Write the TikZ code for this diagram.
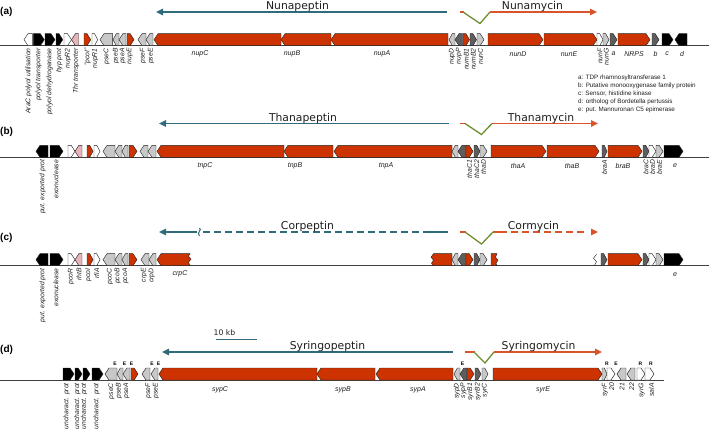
\documentclass[tikz,border=0pt]{standalone}
\usepackage{fontspec}
\setmainfont{Liberation Sans}
\newfontfamily\titlefont{DejaVu Sans}
\usetikzlibrary{arrows.meta}
\definecolor{gred}{HTML}{CC3300}
\definecolor{lgr}{HTML}{C8C8C8}
\definecolor{dgr}{HTML}{5E5E5E}
\definecolor{pnk}{HTML}{E8B4BA}
\definecolor{tealc}{HTML}{2F6B7A}
\definecolor{arrred}{HTML}{D9532B}
\definecolor{grnc}{HTML}{6F8F30}
\definecolor{txt}{HTML}{1E1E1E}
\newcounter{nn}
\newcommand\gR[4]{%
  \pgfmathsetmacro\gh{min(4,0.55*(#2-#1))}%
  \filldraw[gene,fill=#4] (#1,#3) -- (#1,#3-12) -- ({#2-\gh},#3-12) -- (#2,#3-6) -- ({#2-\gh},#3) -- cycle;}
\newcommand\gL[4]{%
  \pgfmathsetmacro\gh{min(4,0.55*(#2-#1))}%
  \filldraw[gene,fill=#4] (#2,#3) -- (#2,#3-12) -- ({#1+\gh},#3-12) -- (#1,#3-6) -- ({#1+\gh},#3) -- cycle;}
\newcommand\rl[3]{\stepcounter{nn}\node[rlab] (r\arabic{nn}) at (#1,#2) {#3};}
\newcommand\hl[3]{\stepcounter{nn}\node[hlab] (h\arabic{nn}) at (#1,#2) {#3};}
\newcommand\dl[3]{\stepcounter{nn}\node[domlab] (d\arabic{nn}) at (#1,#2) {#3};}
\tikzset{
  gene/.style={draw=black!85, line width=0.45pt, line join=miter},
  rlab/.style={rotate=90, anchor=east, inner sep=0pt, font=\fontsize{6.8}{7}\selectfont\itshape, text=txt},
  hlab/.style={anchor=center, inner sep=0pt, font=\fontsize{7}{8}\selectfont\itshape, text=txt},
  ttl/.style={anchor=base, inner sep=0pt, font=\titlefont\fontsize{10.8}{12}\selectfont, text=txt},
  pan/.style={anchor=west, inner sep=0pt, font=\fontsize{10}{12}\selectfont\bfseries},
  domlab/.style={inner sep=0pt, font=\fontsize{5}{6}\selectfont\bfseries},
  leg/.style={anchor=west, inner sep=0pt, font=\fontsize{6.3}{7}\selectfont, text=txt},
  tarr/.style={draw=tealc, line width=1.3pt, -{Triangle[length=7pt,width=6.5pt]}},
  rarr/.style={draw=arrred, line width=1.3pt, -{Triangle[length=7pt,width=6.5pt]}},
  rln/.style={draw=arrred, line width=1.3pt},
  tln/.style={draw=tealc, line width=1.3pt},
  vln/.style={draw=grnc, line width=1.3pt, line join=miter},
  bb/.style={draw=black!75, line width=0.75pt},
}
\begin{document}
\begin{tikzpicture}[x=1pt,y=-1pt]
\useasboundingbox (0,0) rectangle (709,439);
% ---------------- panel labels
\node[pan] (pa) at (0,11.5) {(a)};
\node[pan] (pb) at (0,131.7) {(b)};
\node[pan] (pc) at (0,238.3) {(c)};
\node[pan] (pd) at (0,350) {(d)};
% ---------------- backbones
\draw[bb] (0,45.7) -- (709,45.7);
\draw[bb] (0,157.3) -- (709,157.3);
\draw[bb] (0,265.7) -- (709,265.7);
\draw[bb] (0,380) -- (664,380);
% ================= ROW A
\draw[tarr] (447,12) -- (156,12);
\draw[rln] (460,12) -- (463.5,12);
\draw[vln] (463,12) -- (480,23.5) -- (490,12);
\draw[rarr] (489.5,12) -- (597,12);
\node[ttl] (ta1) at (297.5,9.5) {Nunapeptin};
\node[ttl] (ta2) at (532.5,9.5) {Nunamycin};
\def\B{45.7}
\gL{24}{32.3}{\B}{white}
\gR{33.3}{44.3}{\B}{black}
\gR{45}{55}{\B}{black}
\gR{56}{62.7}{\B}{black}
\gR{64}{71.5}{\B}{white}
\gL{71.5}{78.5}{\B}{pnk}
\gR{84}{90.7}{\B}{gred}
\gR{92}{97.7}{\B}{white}
\gL{100}{112.7}{\B}{lgr}
\gL{113}{119}{\B}{lgr}
\gL{119}{126}{\B}{lgr}
\gR{127}{134}{\B}{gred}
\gL{138}{146}{\B}{lgr}
\gL{146}{153}{\B}{lgr}
\gL{154}{281}{\B}{gred}
\gL{281}{331}{\B}{gred}
\gL{331}{448}{\B}{gred}
\gL{449}{455}{\B}{lgr}
\gL{455}{462.5}{\B}{dgr}
\gR{463}{469.5}{\B}{gred}
\gR{470}{476.5}{\B}{dgr}
\gR{477}{484}{\B}{lgr}
\gR{488}{543}{\B}{gred}
\gR{544}{597}{\B}{gred}
\gR{597}{603}{\B}{white}
\gR{603}{609}{\B}{lgr}
\gR{610}{617}{\B}{dgr}
\gR{618}{650}{\B}{gred}
\gR{652}{659}{\B}{dgr}
\gR{662}{673}{\B}{black}
\gL{675}{687}{\B}{black}
\def\Y{48.2}
\rl{28.5}{\Y}{AraC polyol utilisation}
\rl{38.5}{\Y}{polyol transporter}
\rl{49.5}{\Y}{polyol dehydrogenase}
\rl{59.3}{\Y}{hyp prot}
\rl{68}{\Y}{nupR2}
\rl{76}{\Y}{Thr transporter}
\rl{87.8}{\Y}{"pcoI"}
\rl{95.3}{\Y}{nupR1}
\rl{106.7}{\Y}{pseC}
\rl{116}{\Y}{pseB}
\rl{122.7}{\Y}{pseA}
\rl{129.8}{\Y}{nupE}
\rl{143}{\Y}{pseF}
\rl{151}{\Y}{pseE}
\rl{452}{\Y}{nupD}
\rl{459}{\Y}{nupP}
\rl{466.3}{\Y}{numB1}
\rl{473.3}{\Y}{numB2}
\rl{480.5}{\Y}{nunC}
\rl{600}{\Y}{nunF}
\rl{606.3}{\Y}{nunG}
\def\Y{54}
\hl{200}{\Y}{nupC}
\hl{292}{\Y}{nupB}
\hl{382}{\Y}{nupA}
\hl{518}{\Y}{nunD}
\hl{569}{\Y}{nunE}
\hl{613.5}{\Y}{a}
\hl{634}{\Y}{NRPS}
\hl{655.5}{\Y}{b}
\hl{667}{\Y}{c}
\hl{682}{\Y}{d}
% legend
\node[leg] (lg1) at (578,77.5) {a: TDP rhamnosyltransferase 1};
\node[leg] (lg2) at (578,85.5) {b: Putative monooxygenase family protein};
\node[leg] (lg3) at (578,93.5) {c: Sensor, histidine kinase};
\node[leg] (lg4) at (578,101.5) {d: ortholog of Bordetella pertussis};
\node[leg] (lg5) at (578,109.5) {e: put. Mannuronan C5 epimerase};
% ================= ROW B
\draw[tarr] (449,123.5) -- (159,123.5);
\draw[rln] (460,123.5) -- (465.5,123.5);
\draw[vln] (465,123.5) -- (481.5,134.5) -- (492,123.5);
\draw[rarr] (491.5,123.5) -- (598,123.5);
\node[ttl] (tb1) at (303,121) {Thanapeptin};
\node[ttl] (tb2) at (541,121) {Thanamycin};
\def\B{157.3}
\gL{36}{48}{\B}{black}
\gR{50}{63}{\B}{black}
\gR{68}{75}{\B}{white}
\gL{75}{82}{\B}{pnk}
\gR{87}{93}{\B}{gred}
\gR{94}{100}{\B}{white}
\gL{103}{115}{\B}{lgr}
\gL{115}{122}{\B}{lgr}
\gL{122}{128}{\B}{lgr}
\gR{129}{137}{\B}{gred}
\gL{140}{148}{\B}{lgr}
\gL{148}{156}{\B}{lgr}
\gL{157}{284}{\B}{gred}
\gL{284}{333}{\B}{gred}
\gL{334}{452}{\B}{gred}
\gL{452}{458}{\B}{lgr}
\gL{458}{466}{\B}{dgr}
\gR{466}{473}{\B}{gred}
\gR{474}{480}{\B}{dgr}
\gR{480}{487}{\B}{lgr}
\gR{491}{546}{\B}{gred}
\gR{547}{599}{\B}{gred}
\gR{602}{607}{\B}{dgr}
\gR{608}{642}{\B}{gred}
\gR{643}{649}{\B}{dgr}
\gR{649}{656}{\B}{white}
\gR{656}{663}{\B}{lgr}
\gR{664}{683}{\B}{black}
\def\Y{159.8}
\rl{42.5}{\Y}{put. exported prot}
\rl{56}{\Y}{exonuclease}
\rl{469.5}{\Y}{thaC1}
\rl{476.8}{\Y}{thaC2}
\rl{483.5}{\Y}{thaD}
\rl{604.5}{\Y}{braA}
\rl{646}{\Y}{braC}
\rl{652.5}{\Y}{braD}
\rl{659.5}{\Y}{braE}
\def\Y{165.8}
\hl{205}{\Y}{tnpC}
\hl{295}{\Y}{tnpB}
\hl{386}{\Y}{tnpA}
\hl{518}{\Y}{thaA}
\hl{572}{\Y}{thaB}
\hl{623}{\Y}{braB}
\hl{675}{\Y}{e}
% ================= ROW C
\draw[tarr] (197,232) -- (159,232);
\draw[tealc, line width=1pt] (199.5,228) .. controls (202.5,230) and (196,232.5) .. (199.5,236);
\draw[tln, dash pattern=on 6.5pt off 4.5pt] (203,232) -- (421,232);
\draw[tln] (423,232) -- (448,232);
\draw[rln] (460,232) -- (465.5,232);
\draw[vln] (465,232) -- (481.5,244) -- (493,232);
\draw[rln] (492.5,232) -- (507,232);
\draw[rln, dash pattern=on 6.5pt off 4.5pt] (511,232) -- (588,232);
\draw[rarr] (591,232) -- (598,232);
\node[ttl] (tc1) at (307.5,229.5) {Corpeptin};
\node[ttl] (tc2) at (533.5,229.5) {Cormycin};
\def\B{265.7}
\gL{36}{48}{\B}{black}
\gR{50}{63}{\B}{black}
\gR{68}{75}{\B}{white}
\gL{75}{82}{\B}{pnk}
\gR{87}{93}{\B}{gred}
\gR{94}{100}{\B}{white}
\gL{103}{115}{\B}{lgr}
\gL{115}{122}{\B}{lgr}
\gL{122}{128}{\B}{lgr}
\gR{129}{137}{\B}{gred}
\gL{141}{149}{\B}{lgr}
\gL{149}{156}{\B}{lgr}
\filldraw[gene,fill=gred] (190,\B-12) -- (161,\B-12) -- (157,\B-6) -- (161,\B) -- (190,\B) -- (188.5,\B-3.5) -- (191,\B-6.5) -- (188.5,\B-9.5) -- cycle;
\filldraw[gene,fill=gred] (452,\B-12) -- (433.5,\B-12) -- (431,\B-8.5) -- (433.5,\B-5.5) -- (431.5,\B-2.5) -- (433,\B) -- (452,\B) -- cycle;
\gL{452}{458}{\B}{lgr}
\gL{458}{466}{\B}{dgr}
\gR{466}{473}{\B}{gred}
\gR{474}{480}{\B}{dgr}
\gR{480}{487}{\B}{lgr}
\filldraw[gene,fill=gred] (491,\B) -- (491,\B-12) -- (497,\B-12) -- (495.5,\B-8.5) -- (498,\B-5.5) -- (496,\B-2.5) -- (497,\B) -- cycle;
\draw[gene] (596.5,\B-11.5) -- (593.5,\B-7.5) -- (596.5,\B-4) -- (594.5,\B-0.5);
\gR{601}{607}{\B}{dgr}
\gR{608}{642}{\B}{gred}
\gR{643}{649}{\B}{dgr}
\gR{649}{656}{\B}{white}
\gR{656}{663}{\B}{lgr}
\gR{664}{683}{\B}{black}
\def\Y{268.2}
\rl{42.5}{\Y}{put. exported prot}
\rl{56}{\Y}{exonuclease}
\rl{71}{\Y}{pcoR}
\rl{79}{\Y}{rhtB}
\rl{88.5}{\Y}{pcoI}
\rl{96.7}{\Y}{rfiA}
\rl{110}{\Y}{pcoC}
\rl{117.7}{\Y}{pcoB}
\rl{125.5}{\Y}{pcoA}
\rl{144}{\Y}{crpE}
\rl{151.7}{\Y}{crpD}
\def\Y{274.2}
\hl{180}{\Y}{crpC}
\hl{675}{\Y}{e}
% ================= ROW D
\node[hlab, font=\titlefont\fontsize{7.7}{9}\selectfont] (kb) at (224.5,332.5) {10 kb};
\draw[tealc, line width=0.8pt] (216,339.3) -- (257,339.3);
\draw[tarr] (453,352) -- (162,352);
\draw[rln] (465,352) -- (474.5,352);
\draw[vln] (474,352) -- (485,363) -- (494,352);
\draw[rarr] (493.5,352) -- (602,352);
\node[ttl] (td1) at (327.5,349.5) {Syringopeptin};
\node[ttl] (td2) at (538.5,349.5) {Syringomycin};
\def\B{380}
\gR{63}{74}{\B}{black}
\gR{75}{82}{\B}{black}
\gR{83}{90}{\B}{black}
\gR{92}{103}{\B}{black}
\gL{105}{117}{\B}{lgr}
\gL{117}{123}{\B}{lgr}
\gL{123}{130}{\B}{lgr}
\gR{131}{138}{\B}{gred}
\gL{142}{150}{\B}{lgr}
\gL{151}{158}{\B}{lgr}
\gL{159}{317}{\B}{gred}
\gL{317}{375}{\B}{gred}
\gL{376}{453}{\B}{gred}
\gL{454}{460}{\B}{lgr}
\gL{460}{467}{\B}{dgr}
\gR{467}{474}{\B}{gred}
\gR{475}{481}{\B}{dgr}
\gR{482}{488}{\B}{lgr}
\gR{493}{602}{\B}{gred}
\gR{602}{607}{\B}{lgr}
\gR{607}{615}{\B}{white}
\gL{617}{626}{\B}{lgr}
\gL{627}{635}{\B}{lgr}
\gR{637}{645}{\B}{white}
\gR{645}{654}{\B}{white}
\def\Y{363.5}
\dl{115}{\Y}{E}
\dl{124.5}{\Y}{E}
\dl{131.5}{\Y}{E}
\dl{152}{\Y}{E}
\dl{158.5}{\Y}{E}
\dl{462.5}{\Y}{E}
\dl{607}{\Y}{R}
\dl{616}{\Y}{E}
\dl{640.5}{\Y}{R}
\dl{651}{\Y}{R}
\def\Y{383}
\rl{66.7}{\Y}{uncharact. prot}
\rl{77.3}{\Y}{uncharact. prot}
\rl{84}{\Y}{uncharact. prot}
\rl{96.7}{\Y}{uncharact. prot}
\rl{111.5}{\Y}{pseC}
\rl{119}{\Y}{pseB}
\rl{126.5}{\Y}{pseA}
\rl{148.5}{\Y}{pseF}
\rl{156}{\Y}{pseE}
\rl{457}{\Y}{sypD}
\rl{463.5}{\Y}{sypP}
\rl{470.5}{\Y}{syrB1}
\rl{478}{\Y}{syrB2}
\rl{485}{\Y}{syrC}
\rl{605}{\Y}{syrF}
\rl{611.7}{\Y}{20}
\rl{622}{\Y}{21}
\rl{631.7}{\Y}{22}
\rl{641.7}{\Y}{syrG}
\rl{651.5}{\Y}{salA}
\def\Y{389.5}
\hl{220}{\Y}{sypC}
\hl{343}{\Y}{sypB}
\hl{418}{\Y}{sypA}
\hl{543}{\Y}{syrE}
\end{tikzpicture}
\end{document}
